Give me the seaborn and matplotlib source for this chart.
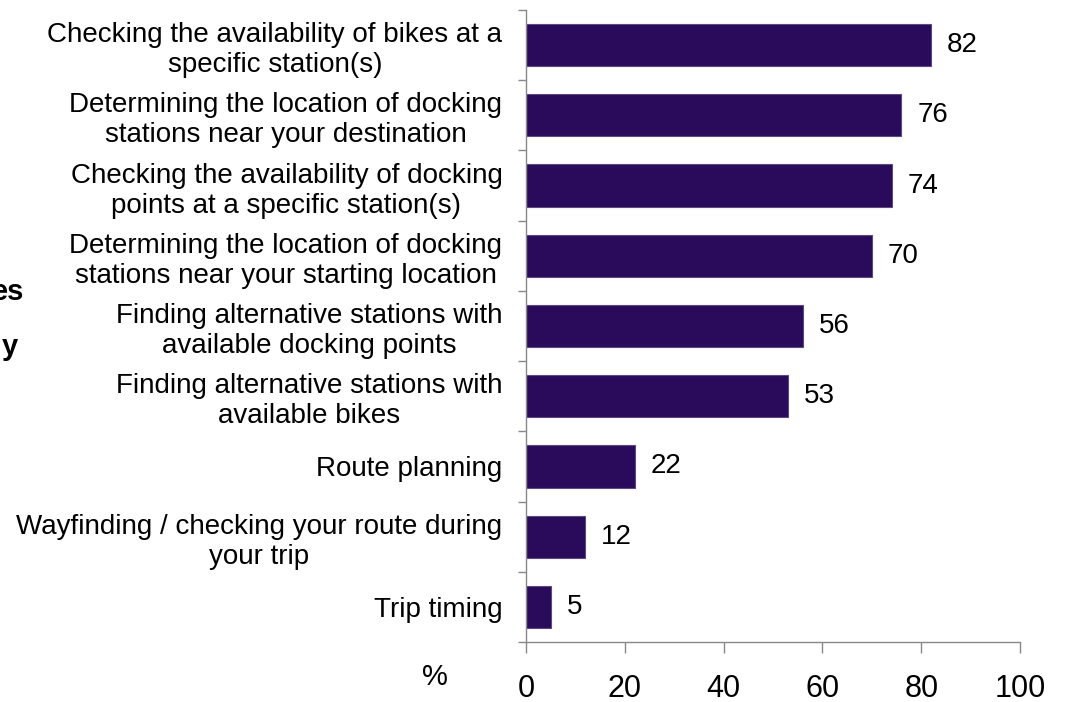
import matplotlib
matplotlib.use("Agg")
import matplotlib.pyplot as plt
import seaborn as sns
import pandas as pd
import numpy as np

categories = [
    "Checking the availability of bikes at a\nspecific station(s)",
    "Determining the location of docking\nstations near your destination",
    "Checking the availability of docking\npoints at a specific station(s)",
    "Determining the location of docking\nstations near your starting location",
    "Finding alternative stations with\navailable docking points",
    "Finding alternative stations with\navailable bikes",
    "Route planning",
    "Wayfinding / checking your route during\nyour trip",
    "Trip timing",
]
values = [82, 76, 74, 70, 56, 53, 22, 12, 5]
x_ticks = [0, 20, 40, 60, 80, 100]

sns.set_theme(style="white")
plt.rcParams['font.family'] = ['Liberation Sans', 'DejaVu Sans']
plt.rcParams['text.color'] = 'black'
plt.rcParams['xtick.color'] = 'black'
plt.rcParams['ytick.color'] = 'black'

df = pd.DataFrame({"cat": categories, "val": values})

fig = plt.figure(figsize=(10.66, 7.02), dpi=100)
ax = fig.add_axes([526/1066, 1-642/702, (1020-526)/1066, (642-10)/702])

sns.barplot(data=df, y="cat", x="val", orient="h", color="#2a0a5a",
            edgecolor="#5a4a80", linewidth=0.8, width=0.6, saturation=1, ax=ax)

ax.set_xlim(0, 100)
ax.set_ylim(len(categories)-0.5, -0.5)
ax.set_xticks(x_ticks)
ax.set_xticklabels([str(t) for t in x_ticks], fontsize=22, color='black')
ax.set_xlabel("")
ax.set_ylabel("")

ax.set_yticks(np.arange(len(categories)))
ax.set_yticklabels(categories, fontsize=20, color='black')
for lbl in ax.get_yticklabels():
    lbl.set_multialignment('center')
ax.set_yticks(np.arange(len(categories)+1) - 0.5, minor=True)
ax.tick_params(axis='y', which='major', length=0, pad=17)
ax.tick_params(axis='y', which='minor', length=6, color='#888888', width=1, left=True, direction='out')
ax.tick_params(axis='x', which='major', length=8, color='#888888', width=1, bottom=True, direction='out', pad=15)

for s in ['top', 'right']:
    ax.spines[s].set_visible(False)
for s in ['left', 'bottom']:
    ax.spines[s].set_color('#888888')
    ax.spines[s].set_linewidth(1)

for i, v in enumerate(values):
    ax.text(v + 3.2, i, str(v), va='center', ha='left', fontsize=20, color='black')

fig.text(435/1066, 1-677/702, "%", fontsize=21, ha='center', va='center', color='black')
fig.text(24/1066, 1-292/702, "es", fontsize=21, fontweight='bold', ha='right', va='center', color='black')
fig.text(18/1066, 1-347/702, "y", fontsize=21, fontweight='bold', ha='right', va='center', color='black')

fig.savefig("out.png", dpi=100)
